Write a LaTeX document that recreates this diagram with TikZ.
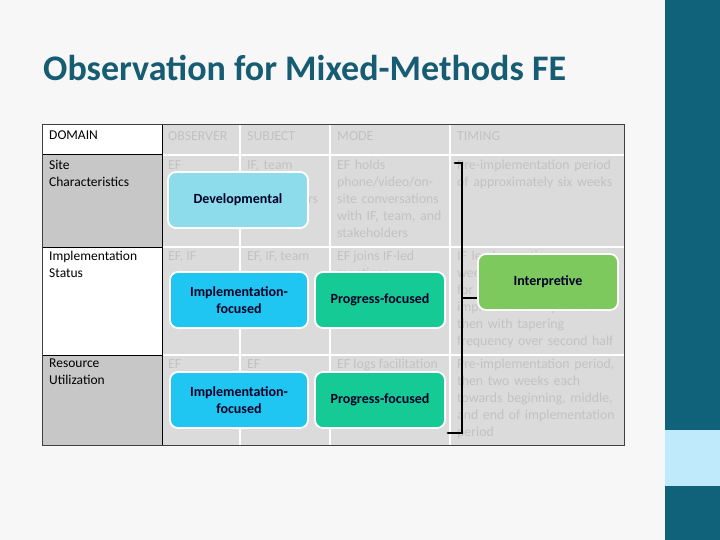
\documentclass[tikz,border=0pt]{standalone}
\usepackage{fontspec}
\setmainfont{Carlito}
\definecolor{barc}{RGB}{15,98,121}
\definecolor{titc}{RGB}{22,92,115}
\definecolor{devc}{RGB}{140,220,235}
\definecolor{impc}{RGB}{32,198,242}
\definecolor{proc}{RGB}{22,202,150}
\definecolor{intc}{RGB}{125,201,94}
\begin{document}
\begin{tikzpicture}[x=1pt,y=-1pt,
  gtxt/.style={anchor=north west,text=black!24,font=\fontsize{13.8}{17}\selectfont,align=left,inner sep=0pt},
  btxt/.style={anchor=north west,text=black,font=\fontsize{13.5}{17}\selectfont,align=left,inner sep=0pt},
  pill/.style={draw=white,line width=1.8pt,rounded corners=8pt,minimum height=56pt,align=center,font=\fontsize{14}{16.5}\selectfont\bfseries,text=black!85!blue}]
\useasboundingbox (0,0) rectangle (720,540);
\fill[white] (0,0) rectangle (720,540);
\fill[black!3] (0,0) rectangle (665,540);
\fill[barc] (665,0) rectangle (720,430);
\fill[cyan!25] (665,430) rectangle (720,486);
\fill[barc] (665,486) rectangle (720,540);
\node[anchor=west,inner sep=0pt,font=\fontsize{36}{38}\selectfont\bfseries,text=titc] (title) at (43,68) {Observation for Mixed-Methods FE};
% table
\fill[black!14] (162,125) rectangle (624,445);
\fill[white] (42,125) rectangle (162,155);
\fill[black!22] (42,155) rectangle (162,247);
\fill[white] (42,247) rectangle (162,355);
\fill[black!22] (42,355) rectangle (162,445);
\draw[white,line width=1.2pt] (162,155)--(624,155) (162,247)--(624,247) (162,355)--(624,355);
\draw[white,line width=1.2pt] (240,125)--(240,445) (330,125)--(330,445) (450,125)--(450,445);
\draw[black,line width=1pt] (42,155)--(162,155) (42,247)--(162,247) (42,355)--(162,355) (162,125)--(162,445);
\draw[black!75,line width=1pt] (42,125) rectangle (624,445);
% texts col1
\node[btxt] (d0) at (49,131) {DOMAIN};
\node[btxt] (d1) at (49,160) {Site\\Characteristics};
\node[btxt] (d2) at (49,251) {Implementation\\Status};
\node[btxt] (d3) at (49,359) {Resource\\Utilization};
% headers
\node[gtxt] (h1) at (168,131) {OBSERVER};
\node[gtxt] (h2) at (247,131) {SUBJECT};
\node[gtxt] (h3) at (337,131) {MODE};
\node[gtxt] (h4) at (457,131) {TIMING};
% row1
\node[gtxt] (a1) at (168,160) {EF};
\node[gtxt,text width=80pt] (a2) at (247,160) {IF, team\\members, stakeholders};
\node[gtxt,text width=108pt] (a3) at (337,160) {EF holds\\phone/video/on-\\site conversations\\with IF, team, and\\stakeholders};
\node[gtxt,text width=165pt] (a4) at (457,160) {Pre-implementation period\\of approximately six weeks};
% row2
\node[gtxt] (b1) at (168,251) {EF, IF};
\node[gtxt] (b2) at (247,251) {EF, IF, team};
\node[gtxt] (b3) at (337,251) {EF joins IF-led\\meetings};
\node[gtxt,text width=165pt] (b4) at (457,251) {IF leads meetings\\weekly for first half\\for implementation\\implementation period,\\then with tapering\\frequency over second half};
% row3
\node[gtxt] (c1) at (168,359) {EF};
\node[gtxt] (c2) at (247,359) {EF};
\node[gtxt] (c3) at (337,359) {EF logs facilitation\\activities};
\node[gtxt,text width=165pt] (c4) at (457,359) {Pre-implementation period,\\then two weeks each\\towards beginning, middle,\\and end of implementation\\period};
% pills
\node[pill,fill=devc,minimum width=140pt] (dev) at (238,200) {Developmental};
\node[pill,fill=impc,minimum width=138pt] (imp1) at (239,300) {Implementation-\\focused};
\node[pill,fill=proc,minimum width=130pt] (pro1) at (380,300) {Progress-focused};
\node[pill,fill=impc,minimum width=138pt] (imp2) at (239,400) {Implementation-\\focused};
\node[pill,fill=proc,minimum width=130pt] (pro2) at (380,400) {Progress-focused};
\node[pill,fill=intc,minimum width=140pt] (int) at (548,282) {Interpretive};
% bracket
\coordinate (bt) at (455,163);
\coordinate (bb) at (455,433);
\draw[black,line width=2.8pt,line cap=round] (bt)--++(7,0)|-(bb)--++(-7,0);
\draw[black,line width=2.8pt] (462,298)--(int.west|-0,298);
\end{tikzpicture}
\end{document}
